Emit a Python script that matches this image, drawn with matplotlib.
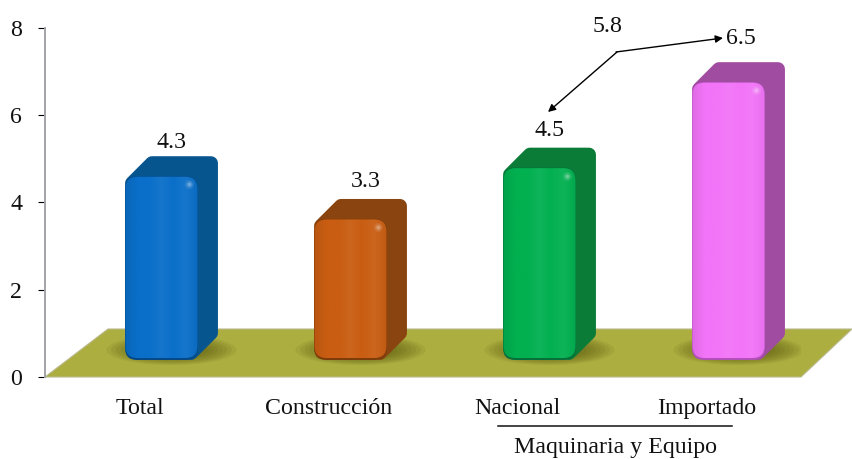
import matplotlib
matplotlib.use('Agg')
import matplotlib.pyplot as plt
import numpy as np
from matplotlib.colors import LinearSegmentedColormap, to_rgb
from matplotlib.lines import Line2D
from matplotlib.patches import Ellipse, FancyBboxPatch, Polygon

plt.rcParams['font.family'] = ['Liberation Serif']

categories = ['Total', 'Construcción', 'Nacional', 'Importado']
values = [4.3, 3.3, 4.5, 6.5]
value_labels = ['4.3', '3.3', '4.5', '6.5']
group_label = 'Maquinaria y Equipo'
group_value = '5.8'
y_ticks = [0, 2, 4, 6, 8]

front_colors = ['#0a6fc9', '#c95d12', '#02b050', '#f274f8']
side_colors = ['#07558f', '#8a4410', '#0a7c38', '#a04ca0']
edge_colors = ['#054a86', '#7d3d0a', '#06703a', '#b050b8']

W, H = 852, 459
FS = 17.2
TXT = '#111111'
fig = plt.figure(figsize=(W / 100, H / 100), dpi=100)
ax = fig.add_axes([45 / W, (H - 377) / H, 756 / W, 349 / H])
ax.set_xlim(-0.5, 3.5)
ax.set_ylim(0, 8)

# size of one pixel in data units
px_x = 4 / 756
px_y = 8 / 349


def fig_xy(x, y):
    return x / W, 1 - y / H


# olive floor of the 3d box
floor = Polygon([(-0.5, 0), (3.5, 0), (3.5 + 51 * px_x, 48 * px_y), (-0.5 + 63 * px_x, 48 * px_y)],
                closed=True, facecolor='#adae40', edgecolor='#b9b98c', lw=0.8, clip_on=False, zorder=1)
ax.add_patch(floor)

base = 17 * px_y
bar_w = 73 * px_x
dx = 20 * px_x
dy = 20 * px_y
rad = 12 * px_x
aspect = px_y / px_x
yscale = 0.98
# label shift from the bar centre and top, in pixels
nudge = [(10, 34), (15, 37), (10, 37), (12, 44)]

for i, val in enumerate(values):
    x0 = i + 22 * px_x - bar_w / 2
    x1 = x0 + bar_w
    top = base + val * yscale

    # soft shadow on the floor
    for k in range(12):
        f = 1 - k / 14
        sh = Ellipse((x0 + bar_w / 2 + 10 * px_x, base + 10 * px_y), (130 * f) * px_x, (30 * f) * px_y,
                     facecolor='#55540c', edgecolor='none', alpha=0.11, zorder=2)
        ax.add_patch(sh)

    # side and top faces, the round join gives the soft corners
    ins_x, ins_y = 7 * px_x, 7 * px_y
    hull = Polygon([(x0 + ins_x, top - ins_y), (x0 + dx + ins_x, top + dy - ins_y), (x1 + dx - ins_x, top + dy - ins_y),
                    (x1 + dx - ins_x, base + dy + ins_y), (x1 - ins_x, base + ins_y)],
                   closed=True, facecolor=side_colors[i], edgecolor=side_colors[i], lw=10, joinstyle='round', zorder=3)
    ax.add_patch(hull)

    front = FancyBboxPatch((x0, base), bar_w, val * yscale, boxstyle='round,pad=0,rounding_size=%f' % rad,
                           mutation_aspect=aspect, facecolor=edge_colors[i], edgecolor='none', zorder=4)
    ax.add_patch(front)

    # horizontal shading on the front face
    c = np.array(to_rgb(front_colors[i]))
    light = c + (1 - c) * 0.05
    cmap = LinearSegmentedColormap.from_list('face', [c * 0.92, c, c, light, c, light, c * 0.96])
    inner = FancyBboxPatch((x0 + 0.5 * px_x, base + 2 * px_y), bar_w - 1 * px_x, val * yscale - 2.5 * px_y,
                           boxstyle='round,pad=0,rounding_size=%f' % rad, mutation_aspect=aspect,
                           facecolor='none', edgecolor='none', zorder=5)
    ax.add_patch(inner)
    im = ax.imshow(np.linspace(0, 1, 80).reshape(1, -1), cmap=cmap, aspect='auto',
                   extent=(x0, x1, base, top), zorder=5)
    im.set_clip_path(inner)

    # little specular spot at the upper right of the face
    for s, a in zip([45, 20, 6], [0.08, 0.14, 0.22]):
        ax.scatter(x1 - 9 * px_x, top - 8 * px_y, s=s, color='white', alpha=a, lw=0, zorder=6)

    # value on top of the bar
    ax.annotate(value_labels[i], (x0 + bar_w / 2, top),
                xytext=(nudge[i][0] * 0.72, nudge[i][1] * 0.72), textcoords='offset points',
                ha='center', va='center', fontsize=FS, color=TXT, zorder=7)

ax.set_xlim(-0.5, 3.5)
ax.set_ylim(0, 8)

ax.set_xticks(range(len(categories)))
ax.set_xticklabels(categories, fontsize=FS, color=TXT)
ax.set_yticks(y_ticks)
ax.tick_params(axis='x', length=0, pad=15)
ax.tick_params(axis='y', direction='out', length=5, width=0.8, pad=11.5, labelsize=FS, labelcolor=TXT)

for name in ['top', 'right', 'bottom']:
    ax.spines[name].set_visible(False)
ax.spines['left'].set_color('#a3a3a8')
ax.spines['left'].set_linewidth(1.4)
ax.patch.set_alpha(0)

# group label under the last two categories
fig.add_artist(Line2D([498 / W, 732 / W], [1 - 426 / H, 1 - 426 / H], color=TXT, lw=1.1))
fig.text(615 / W, 1 - 448 / H, group_label, ha='center', va='center', fontsize=FS, color=TXT)

# average of the group, with arrows to both bars
fig.text(607 / W, 1 - 27 / H, group_value, ha='center', va='center', fontsize=FS, color=TXT)
arrow = dict(arrowstyle='-|>', color='black', lw=1.0, shrinkA=0, shrinkB=0, mutation_scale=11)
ax.annotate('', xy=fig_xy(723, 38), xytext=fig_xy(616, 52), xycoords='figure fraction',
            textcoords='figure fraction', arrowprops=arrow, annotation_clip=False)
ax.annotate('', xy=fig_xy(548, 112), xytext=fig_xy(617, 52), xycoords='figure fraction',
            textcoords='figure fraction', arrowprops=arrow, annotation_clip=False)

fig.savefig('out.png', dpi=100)
